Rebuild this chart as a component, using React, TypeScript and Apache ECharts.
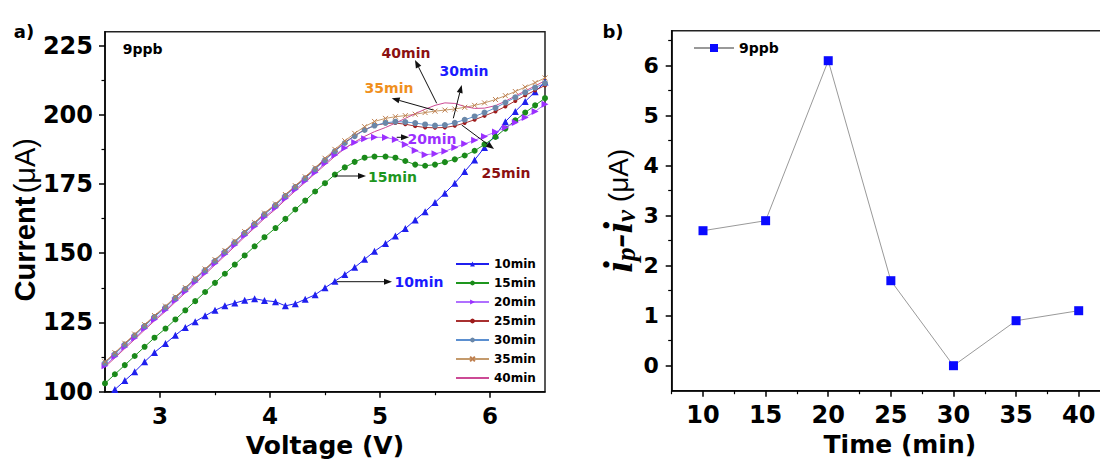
import React, { useEffect, useRef } from 'react';
import * as echarts from 'echarts';

// ---------- data (panel a) ----------
const voltage = [2.50, 2.59, 2.68, 2.77, 2.86, 2.95, 3.05, 3.14, 3.23, 3.32, 3.41, 3.50, 3.59, 3.68, 3.77, 3.86, 3.95, 4.05, 4.14, 4.23, 4.32, 4.41, 4.50, 4.59, 4.68, 4.77, 4.86, 4.95, 5.05, 5.14, 5.23, 5.32, 5.41, 5.50, 5.59, 5.68, 5.77, 5.86, 5.95, 6.05, 6.14, 6.23, 6.32, 6.41, 6.50];
const cur10 = [98.0, 100.8, 104.0, 107.2, 110.8, 114.2, 117.4, 120.4, 123.2, 125.3, 127.4, 129.4, 131.0, 132.0, 133.0, 133.6, 132.9, 132.5, 131.0, 131.8, 133.4, 135.0, 137.5, 139.9, 142.3, 144.9, 147.8, 150.7, 153.5, 156.2, 158.9, 162.0, 165.0, 168.3, 171.7, 175.3, 179.5, 183.7, 188.2, 192.7, 197.5, 201.2, 204.8, 208.3, 211.8];
const cur15 = [103.0, 106.3, 109.6, 112.9, 116.2, 119.5, 122.8, 126.1, 129.4, 132.7, 136.0, 139.3, 142.6, 145.9, 149.2, 152.5, 155.8, 159.1, 162.4, 165.8, 169.0, 172.3, 175.3, 178.4, 181.0, 183.0, 184.5, 184.9, 184.9, 184.5, 183.3, 182.0, 181.6, 182.0, 182.9, 183.9, 185.3, 187.0, 189.3, 192.0, 195.0, 198.0, 200.8, 203.4, 206.0];
const cur20 = [109.4, 112.7, 116.1, 119.4, 122.8, 126.1, 129.5, 132.9, 136.2, 139.6, 142.9, 146.3, 149.6, 153.0, 156.4, 159.7, 163.1, 166.4, 169.8, 173.0, 176.1, 179.2, 182.5, 185.5, 188.0, 190.0, 191.3, 191.9, 191.8, 191.1, 189.3, 187.1, 185.6, 185.9, 186.8, 188.2, 189.5, 190.8, 192.2, 193.8, 195.4, 197.2, 199.0, 201.2, 203.8];
const cur25 = [110.6, 113.9, 117.3, 120.6, 124.0, 127.3, 130.7, 134.1, 137.4, 140.8, 144.1, 147.5, 150.8, 154.2, 157.6, 160.9, 164.3, 167.6, 171.0, 174.2, 177.3, 180.6, 183.9, 187.0, 190.0, 192.5, 194.6, 196.1, 196.9, 197.0, 196.6, 195.9, 195.4, 195.3, 195.4, 196.0, 197.0, 198.2, 199.6, 201.2, 203.0, 205.0, 207.0, 208.8, 210.6];
const cur30 = [110.3, 113.6, 117.0, 120.3, 123.7, 127.0, 130.4, 133.8, 137.1, 140.5, 143.8, 147.2, 150.5, 153.9, 157.3, 160.6, 164.0, 167.3, 170.7, 173.9, 177.0, 180.3, 183.6, 186.8, 189.8, 192.3, 194.5, 196.1, 197.1, 197.5, 197.4, 197.0, 196.5, 196.1, 196.3, 197.1, 198.2, 199.4, 200.8, 202.5, 204.4, 206.3, 208.1, 209.8, 211.4];
const cur35 = [110.8, 114.1, 117.5, 120.8, 124.2, 127.5, 130.9, 134.3, 137.6, 141.0, 144.3, 147.7, 151.0, 154.4, 157.8, 161.1, 164.5, 167.8, 171.2, 174.4, 177.6, 180.9, 184.3, 187.5, 190.6, 193.3, 195.7, 197.6, 198.7, 199.3, 199.7, 200.2, 200.8, 201.3, 201.7, 202.1, 202.7, 203.4, 204.3, 205.5, 206.9, 208.4, 210.0, 211.6, 213.3];
const cur40 = [108.9, 112.2, 115.6, 118.9, 122.3, 125.6, 129.0, 132.4, 135.7, 139.1, 142.4, 145.8, 149.1, 152.5, 155.9, 159.2, 162.6, 165.9, 169.3, 172.5, 175.6, 178.8, 181.9, 185.0, 187.8, 190.2, 192.2, 193.9, 195.4, 197.0, 198.7, 200.4, 202.0, 203.4, 204.3, 204.1, 203.0, 202.3, 202.4, 203.3, 204.9, 206.8, 208.6, 210.4, 212.3];
const seriesNames = ['10min', '15min', '20min', '25min', '30min', '35min', '40min'];

const leftXMajor = [3, 4, 5, 6];
const leftXMinor = [3.5, 4.5, 5.5];
const leftYMajor = [100, 125, 150, 175, 200, 225];
const leftYMinor = [112.5, 137.5, 162.5, 187.5, 212.5];

// ---------- data (panel b) ----------
const timeMin = [10, 15, 20, 25, 30, 35, 40];
const ipMinusIv = [2.7, 2.9, 6.1, 1.7, 0.0, 0.9, 1.1];
const rightXMajor = [10, 15, 20, 25, 30, 35, 40];
const rightXMinor = [7.5, 12.5, 17.5, 22.5, 27.5, 32.5, 37.5];
const rightYMajor = [0, 1, 2, 3, 4, 5, 6];
const rightYMinor = [0.5, 1.5, 2.5, 3.5, 4.5, 5.5, 6.5];

const FONT = 'DejaVu Sans';
const BLACK = '#000';

const annotations = [
  { text: '40min', color: '#8b1111', tx: 406, ty: 52.5, x1: 436.7, y1: 103.3, x2: 415, y2: 60 },
  { text: '30min', color: '#1a1aff', tx: 464, ty: 71, x1: 453.3, y1: 118.3, x2: 461.7, y2: 85 },
  { text: '35min', color: '#f0901e', tx: 389, ty: 88, x1: 433.3, y1: 110, x2: 391.7, y2: 98.3 },
  { text: '20min', color: '#9b30ff', tx: 432, ty: 139, x1: 396.7, y1: 137.3, x2: 409, y2: 137.3 },
  { text: '25min', color: '#8b1111', tx: 506, ty: 173, x1: 461.7, y1: 125, x2: 494, y2: 149 },
  { text: '15min', color: '#1e961e', tx: 392.5, ty: 176.7, x1: 335, y1: 176, x2: 366, y2: 176 },
  { text: '10min', color: '#1a1aff', tx: 419, ty: 281.7, x1: 336.7, y1: 281.7, x2: 392, y2: 281.7 },
];

function pairs(ys: number[]) {
  return voltage.map((v, i) => [v, ys[i]]);
}

function majorAxis(extra: any) {
  return {
    type: 'value',
    axisLine: { show: true, onZero: false, lineStyle: { color: BLACK, width: 1.5 } },
    axisTick: { show: true, length: 6, lineStyle: { color: BLACK, width: 1.5 } },
    axisLabel: { color: BLACK, fontFamily: FONT, fontWeight: 'bold', fontSize: 23 },
    splitLine: { show: false },
    ...extra,
  };
}
function minorAxis(extra: any, values: number[]) {
  return {
    type: 'value',
    axisLine: { show: false, onZero: false },
    axisTick: { show: true, length: 3.5, customValues: values, lineStyle: { color: BLACK, width: 1.2 } },
    axisLabel: { show: false },
    splitLine: { show: false },
    ...extra,
  };
}

export default function App() {
  const ref = useRef<HTMLDivElement>(null);
  useEffect(() => {
    const chart = echarts.init(ref.current!, null, { renderer: 'svg' });

    const graphics: any[] = [
      { type: 'text', x: 24, y: 31, style: { text: 'a)', fill: BLACK, fontFamily: FONT, fontWeight: 'bold', fontSize: 18, align: 'center', verticalAlign: 'middle' } },
      { type: 'text', x: 613, y: 31, style: { text: 'b)', fill: BLACK, fontFamily: FONT, fontWeight: 'bold', fontSize: 18, align: 'center', verticalAlign: 'middle' } },
      { type: 'text', x: 122.7, y: 49, style: { text: '9ppb', fill: BLACK, fontFamily: FONT, fontWeight: 'bold', fontSize: 14, align: 'left', verticalAlign: 'middle' } },
    ];
    annotations.forEach((a) => {
      const dx = a.x2 - a.x1;
      const dy = a.y2 - a.y1;
      const len = Math.sqrt(dx * dx + dy * dy);
      const ux = dx / len;
      const uy = dy / len;
      const hl = 8;
      const hw = 3;
      const bx = a.x2 - ux * hl;
      const by = a.y2 - uy * hl;
      graphics.push({ type: 'line', shape: { x1: a.x1, y1: a.y1, x2: bx, y2: by }, style: { stroke: '#111', lineWidth: 1 }, z: 50 });
      graphics.push({
        type: 'polygon',
        shape: { points: [[a.x2, a.y2], [bx - uy * hw, by + ux * hw], [bx + uy * hw, by - ux * hw]] },
        style: { fill: '#111' },
        z: 50,
      });
      graphics.push({
        type: 'text', x: a.tx, y: a.ty, z: 50,
        style: { text: a.text, fill: a.color, fontFamily: FONT, fontWeight: 'bold', fontSize: 14, align: 'center', verticalAlign: 'middle' },
      });
    });

    const lineBase = { type: 'line', xAxisIndex: 0, yAxisIndex: 0, clip: true };
    const option: any = {
      animation: false,
      backgroundColor: '#fff',
      grid: [
        { left: 105, width: 440, top: 31.7, height: 360, show: true, borderColor: '#222', borderWidth: 1.5, outerBoundsMode: 'none', containLabel: false },
        { left: 671.7, width: 438.3, top: 30.7, height: 360, show: true, borderColor: '#222', borderWidth: 1.5, outerBoundsMode: 'none', containLabel: false },
      ],
      xAxis: [
        majorAxis({
          gridIndex: 0, min: 2.5, max: 6.5, position: 'bottom',
          axisTick: { show: true, length: 6, customValues: leftXMajor, lineStyle: { color: BLACK, width: 1.5 } },
          axisLabel: { customValues: leftXMajor, margin: 13, color: BLACK, fontFamily: FONT, fontWeight: 'bold', fontSize: 23 },
          name: 'Voltage (V)', nameLocation: 'middle', nameGap: 40,
          nameTextStyle: { color: BLACK, fontFamily: FONT, fontWeight: 'bold', fontSize: 25 },
        }),
        minorAxis({ gridIndex: 0, min: 2.5, max: 6.5, position: 'bottom' }, leftXMinor),
        majorAxis({
          gridIndex: 1, min: 7.5, max: 42.5, position: 'bottom',
          axisTick: { show: true, length: 6, customValues: rightXMajor, lineStyle: { color: BLACK, width: 1.5 } },
          axisLabel: { customValues: rightXMajor, margin: 12, color: BLACK, fontFamily: FONT, fontWeight: 'bold', fontSize: 24 },
          name: 'Time (min)', nameLocation: 'middle', nameGap: 40,
          nameTextStyle: { color: BLACK, fontFamily: FONT, fontWeight: 'bold', fontSize: 25, padding: [0, 0, 0, 18] },
        }),
        minorAxis({ gridIndex: 1, min: 7.5, max: 42.5, position: 'bottom' }, rightXMinor),
      ],
      yAxis: [
        majorAxis({
          gridIndex: 0, min: 100, max: 230, position: 'left',
          axisTick: { show: true, length: 6, customValues: leftYMajor, lineStyle: { color: BLACK, width: 1.5 } },
          axisLabel: { customValues: leftYMajor, margin: 12, color: BLACK, fontFamily: FONT, fontWeight: 'bold', fontSize: 24 },
          name: '{b|Current} {n|(μA)}', nameLocation: 'middle', nameGap: 58,
          nameTextStyle: {
            color: BLACK, padding: [0, 16, 0, 0],
            rich: {
              b: { fontFamily: 'Liberation Sans', fontWeight: 'bold', fontSize: 29, color: BLACK },
              n: { fontFamily: 'Liberation Sans', fontWeight: 'normal', fontSize: 29, color: BLACK },
            },
          },
        }),
        minorAxis({ gridIndex: 0, min: 100, max: 230, position: 'left' }, leftYMinor),
        majorAxis({
          gridIndex: 1, min: -0.5, max: 6.7, position: 'left',
          axisTick: { show: true, length: 6, customValues: rightYMajor, lineStyle: { color: BLACK, width: 1.5 } },
          axisLabel: { customValues: rightYMajor, margin: 13, color: BLACK, fontFamily: FONT, fontWeight: 'bold', fontSize: 22 },
          name: '{i|i}{s|p}{i|-i}{s|v}{n| (μA)}', nameLocation: 'middle', nameGap: 28,
          nameTextStyle: {
            color: BLACK,
            rich: {
              i: { fontFamily: 'Liberation Serif', fontStyle: 'italic', fontWeight: 'bold', fontSize: 42, color: BLACK },
              s: { fontFamily: 'Liberation Serif', fontStyle: 'italic', fontWeight: 'bold', fontSize: 27, color: BLACK, verticalAlign: 'bottom' },
              n: { fontFamily: 'Liberation Sans', fontWeight: 'normal', fontSize: 28, color: BLACK },
            },
          },
        }),
        minorAxis({ gridIndex: 1, min: -0.5, max: 6.7, position: 'left' }, rightYMinor),
      ],
      legend: [
        {
          data: ['10min', '15min', '20min', '25min', '30min', '35min', { name: '40min', itemStyle: { opacity: 0 } }],
          orient: 'vertical', left: 455, top: 257, padding: 0,
          itemWidth: 33, itemHeight: 6, itemGap: 5,
          textStyle: { fontFamily: FONT, fontWeight: 'bold', fontSize: 12, color: BLACK, lineHeight: 14 },
        },
        {
          data: ['9ppb'], orient: 'vertical', left: 693, top: 40, padding: 0,
          itemWidth: 40, itemHeight: 10,
          textStyle: { fontFamily: FONT, fontWeight: 'bold', fontSize: 14, color: BLACK, lineHeight: 16 },
        },
      ],
      series: [
        { ...lineBase, name: seriesNames[0], data: pairs(cur10), symbol: 'triangle', symbolSize: 7, itemStyle: { color: '#1f1fef' }, lineStyle: { color: '#1f1fef', width: 1 } },
        { ...lineBase, name: seriesNames[1], data: pairs(cur15), symbol: 'circle', symbolSize: 6, itemStyle: { color: '#1a8a1a' }, lineStyle: { color: '#1e961e', width: 1 } },
        { ...lineBase, name: seriesNames[2], data: pairs(cur20), symbol: 'triangle', symbolRotate: -90, symbolSize: 7, itemStyle: { color: '#9b30ff' }, lineStyle: { color: '#b070ff', width: 1 } },
        { ...lineBase, name: seriesNames[3], data: pairs(cur25), symbol: 'circle', symbolSize: 4, itemStyle: { color: '#9e1b1b' }, lineStyle: { color: '#a83030', width: 1 } },
        { ...lineBase, name: seriesNames[4], data: pairs(cur30), symbol: 'circle', symbolSize: 6, itemStyle: { color: '#6a87a8' }, lineStyle: { color: '#5b8fd0', width: 1 } },
        { ...lineBase, name: seriesNames[5], data: pairs(cur35), symbol: 'path://M0,0L10,10M10,0L0,10', symbolSize: 5, itemStyle: { color: 'none', borderColor: '#c08050', borderWidth: 1 }, lineStyle: { color: '#c49a6c', width: 1 } },
        { ...lineBase, name: seriesNames[6], data: pairs(cur40), symbol: 'none', itemStyle: { color: '#d0559a' }, lineStyle: { color: '#cc4a95', width: 1 } },
        {
          type: 'line', name: '9ppb', xAxisIndex: 2, yAxisIndex: 2,
          data: timeMin.map((t, i) => [t, ipMinusIv[i]]),
          symbol: 'rect', symbolSize: 9, itemStyle: { color: '#0a0aff' }, lineStyle: { color: '#999', width: 1 },
        },
      ],
      graphic: graphics,
    };
    chart.setOption(option);
    return () => chart.dispose();
  }, []);
  return <div ref={ref} style={{ position: 'fixed', left: 0, top: 0, width: 1100, height: 459, background: '#fff' }} />;
}
